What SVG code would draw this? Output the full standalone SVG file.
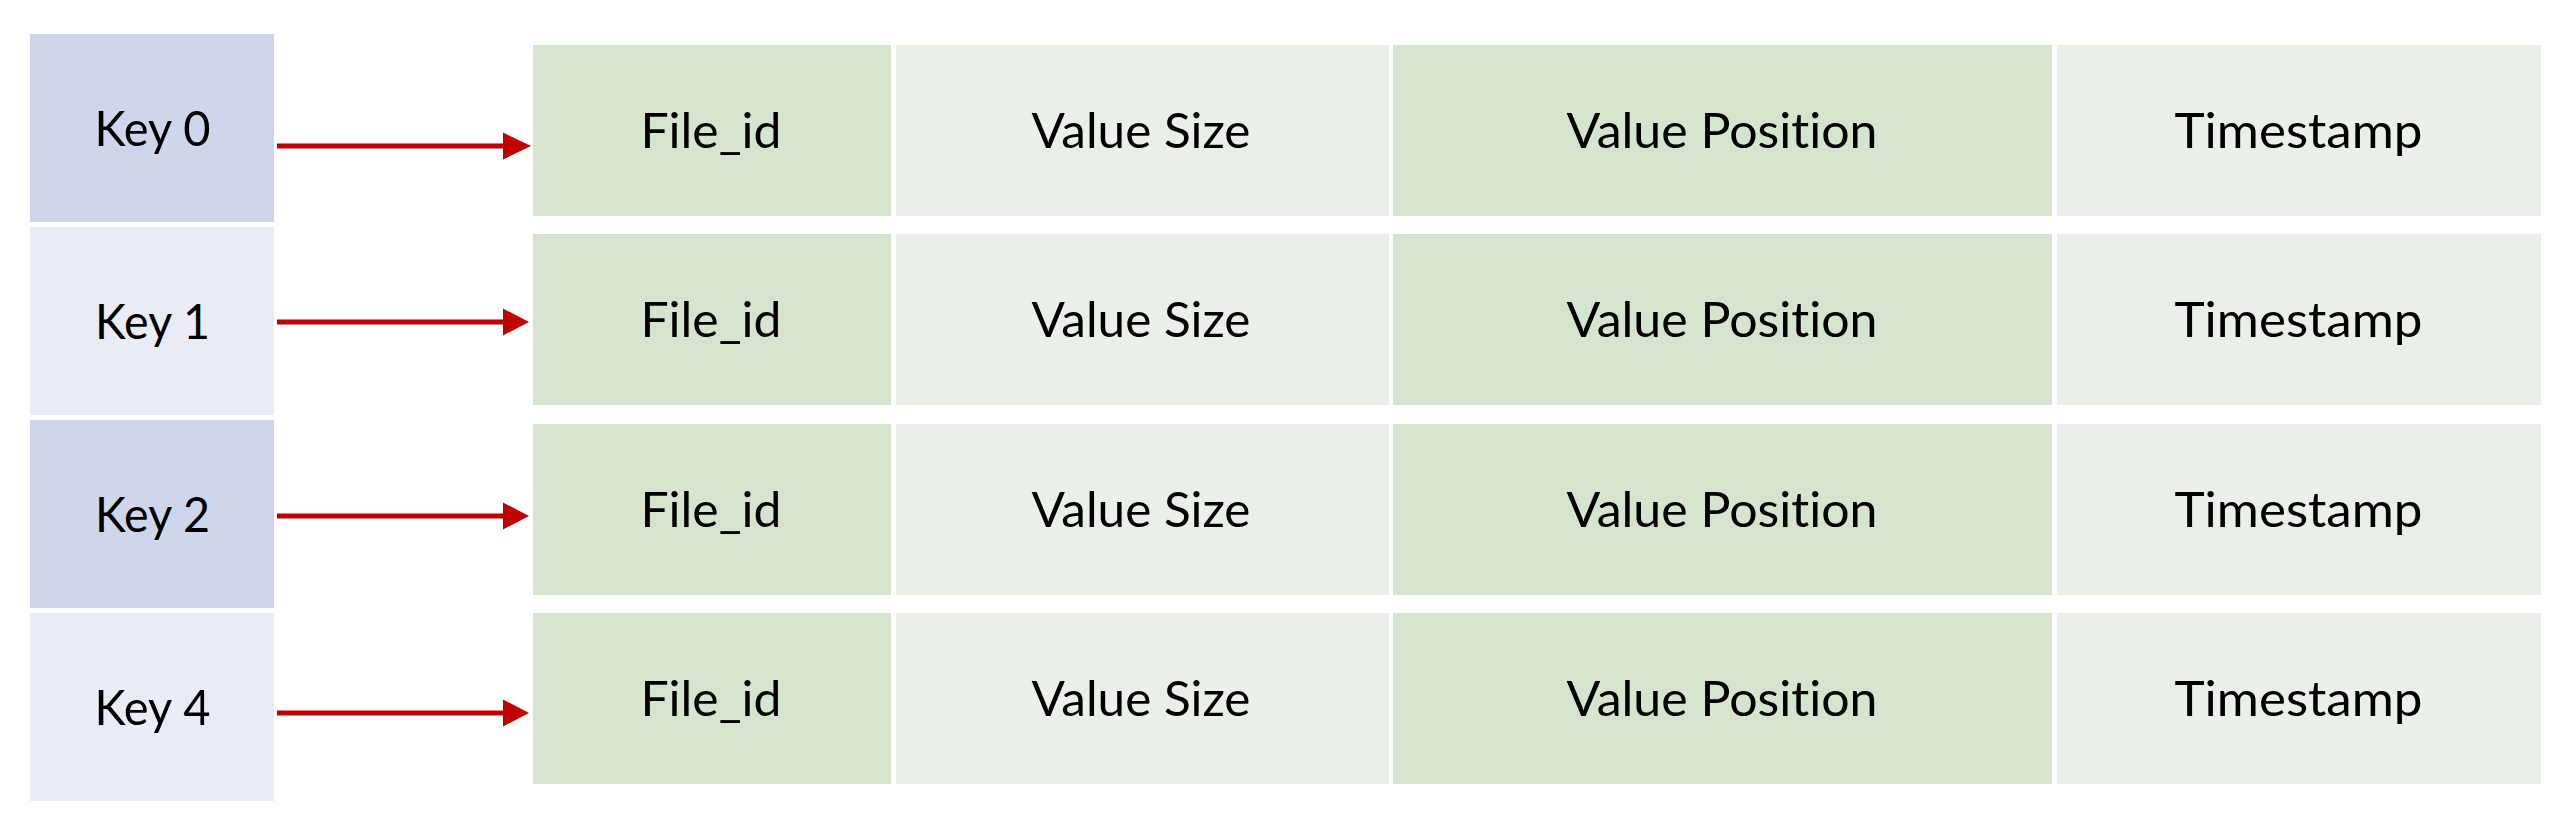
<svg xmlns="http://www.w3.org/2000/svg" width="2566" height="838" viewBox="0 0 2566 838">
<defs>
<style>
.kd{fill:#CFD5EA}
.kl{fill:#E9EBF5}
.gd{fill:#D6E3CF}
.gl{fill:#EAEFE8}
text{font-family:Lato,"Open Sans","Liberation Sans",sans-serif;font-size:49px;fill:#000;text-anchor:middle;font-variant-ligatures:none}
.arr{stroke:#C00000;stroke-width:5;fill:none}
.head{fill:#C00000}
</style>
</defs>
<rect width="2566" height="838" fill="#FFFFFF"/>
<g id="key0"><rect class="kd" x="30" y="34" width="244" height="188"/><text x="152.5" y="145.7" textLength="116" lengthAdjust="spacingAndGlyphs">Key 0</text></g>
<g id="key1"><rect class="kl" x="30" y="227" width="244" height="188"/><text x="152.5" y="338.7" textLength="115" lengthAdjust="spacingAndGlyphs">Key 1</text></g>
<g id="key2"><rect class="kd" x="30" y="420" width="244" height="188"/><text x="152.5" y="531.7" textLength="115" lengthAdjust="spacingAndGlyphs">Key 2</text></g>
<g id="key4"><rect class="kl" x="30" y="613" width="244" height="188"/><text x="152.5" y="724.7" textLength="116" lengthAdjust="spacingAndGlyphs">Key 4</text></g>

<g id="row0">
<rect class="gd" x="533" y="45" width="358" height="171"/><text x="711" y="148" textLength="141" lengthAdjust="spacingAndGlyphs">File_id</text>
<rect class="gl" x="896" y="45" width="493" height="171"/><text x="1141" y="148" textLength="219" lengthAdjust="spacingAndGlyphs">Value Size</text>
<rect class="gd" x="1393" y="45" width="659" height="171"/><text x="1722" y="148" textLength="311" lengthAdjust="spacingAndGlyphs">Value Position</text>
<rect class="gl" x="2057" y="45" width="484" height="171"/><text x="2298.5" y="148" textLength="248" lengthAdjust="spacingAndGlyphs">Timestamp</text>
</g>
<g id="row1">
<rect class="gd" x="533" y="234" width="358" height="171"/><text x="711" y="337" textLength="141" lengthAdjust="spacingAndGlyphs">File_id</text>
<rect class="gl" x="896" y="234" width="493" height="171"/><text x="1141" y="337" textLength="219" lengthAdjust="spacingAndGlyphs">Value Size</text>
<rect class="gd" x="1393" y="234" width="659" height="171"/><text x="1722" y="337" textLength="311" lengthAdjust="spacingAndGlyphs">Value Position</text>
<rect class="gl" x="2057" y="234" width="484" height="171"/><text x="2298.5" y="337" textLength="248" lengthAdjust="spacingAndGlyphs">Timestamp</text>
</g>
<g id="row2">
<rect class="gd" x="533" y="424" width="358" height="171"/><text x="711" y="527" textLength="141" lengthAdjust="spacingAndGlyphs">File_id</text>
<rect class="gl" x="896" y="424" width="493" height="171"/><text x="1141" y="527" textLength="219" lengthAdjust="spacingAndGlyphs">Value Size</text>
<rect class="gd" x="1393" y="424" width="659" height="171"/><text x="1722" y="527" textLength="311" lengthAdjust="spacingAndGlyphs">Value Position</text>
<rect class="gl" x="2057" y="424" width="484" height="171"/><text x="2298.5" y="527" textLength="248" lengthAdjust="spacingAndGlyphs">Timestamp</text>
</g>
<g id="row3">
<rect class="gd" x="533" y="613" width="358" height="171"/><text x="711" y="716" textLength="141" lengthAdjust="spacingAndGlyphs">File_id</text>
<rect class="gl" x="896" y="613" width="493" height="171"/><text x="1141" y="716" textLength="219" lengthAdjust="spacingAndGlyphs">Value Size</text>
<rect class="gd" x="1393" y="613" width="659" height="171"/><text x="1722" y="716" textLength="311" lengthAdjust="spacingAndGlyphs">Value Position</text>
<rect class="gl" x="2057" y="613" width="484" height="171"/><text x="2298.5" y="716" textLength="248" lengthAdjust="spacingAndGlyphs">Timestamp</text>
</g>

<g id="connectors">
<line class="arr" x1="277" y1="146" x2="505" y2="146"/><polygon class="head" points="503,132.5 531,146 503,159.5"/>
<line class="arr" x1="277" y1="322" x2="505" y2="322"/><polygon class="head" points="503,308.5 529,322 503,335.5"/>
<line class="arr" x1="277" y1="516" x2="505" y2="516"/><polygon class="head" points="503,502.5 529,516 503,529.5"/>
<line class="arr" x1="277" y1="713" x2="505" y2="713"/><polygon class="head" points="503,699.5 529,713 503,726.5"/>
</g>
</svg>
